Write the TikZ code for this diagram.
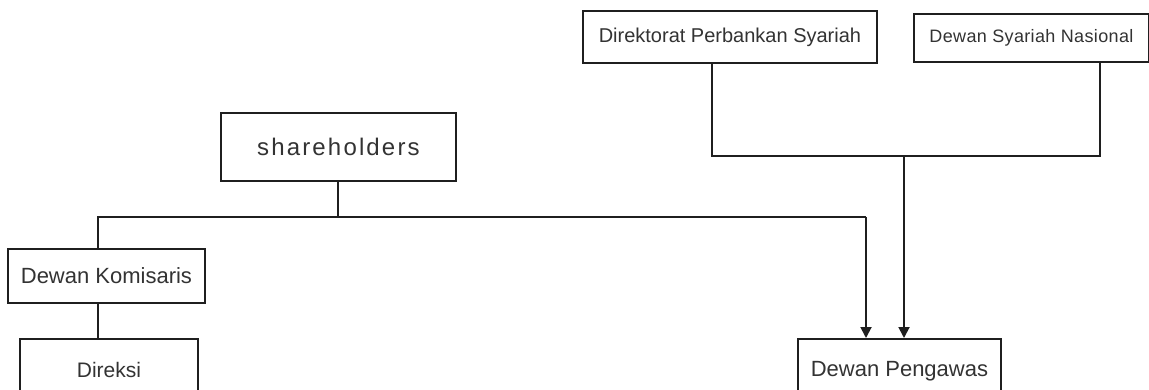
\documentclass[tikz,border=0pt]{standalone}
\usepackage{fontspec}
\setmainfont{Liberation Sans}
\newfontfamily\widesans[LetterSpace=9]{Liberation Sans}
\newfontfamily\slightsans[LetterSpace=2]{Liberation Sans}
\usetikzlibrary{arrows.meta}
\begin{document}
\begin{tikzpicture}[x=1pt,y=1pt,
  box/.style={draw=black!88, line width=1.9pt, fill=white, inner sep=0pt,
              text=black!80, anchor=north west},
  link/.style={draw=black!88, line width=1.9pt},
  arrowlink/.style={link, -{Triangle[length=11pt,width=11pt]}}]
\clip (0,0) rectangle (1149,-390);
\fill[white] (0,0) rectangle (1149,-390);

% boxes (placed by their top-left corners)
\node[box, minimum width=294, minimum height=52, font=\fontsize{20}{20}\selectfont]
  (dps) at (582,-10) {Direktorat Perbankan Syariah};
\node[box, minimum width=235, minimum height=48, font=\slightsans\fontsize{18}{18}\selectfont]
  (dsn) at (913,-13) {Dewan Syariah Nasional};
\node[box, minimum width=235, minimum height=68, font=\widesans\fontsize{24}{24}\selectfont]
  (sh) at (220,-112) {shareholders};
\node[box, minimum width=197, minimum height=54, font=\fontsize{22}{22}\selectfont]
  (dk) at (7,-248) {Dewan Komisaris};
\node[box, minimum width=178, minimum height=62, font=\fontsize{21}{21}\selectfont]
  (dr) at (19,-338) {Direksi};
\node[box, minimum width=203, minimum height=64, font=\fontsize{22}{22}\selectfont]
  (dp) at (797,-338) {Dewan Pengawas};

% junction points of the connector lines
\coordinate (j1) at (338,-217);
\coordinate (kx) at (98,-217);
\coordinate (ax) at (866,-217);
\coordinate (j2) at (904,-156);
\coordinate (lx) at (712,-156);
\coordinate (rx) at (1100,-156);

% shareholders branch
\draw[link] (sh.south -| j1) -- (j1);
\draw[link] (ax) -- (kx) -- (kx |- dk.north);
\draw[link] (kx |- dk.south) -- (kx |- dr.north);
\draw[arrowlink] (ax) -- (ax |- dp.north);

% supervisory branch
\draw[link] (lx |- dps.south) -- (lx) -- (rx) -- (rx |- dsn.south);
\draw[arrowlink] (j2) -- (j2 |- dp.north);
\end{tikzpicture}
\end{document}
